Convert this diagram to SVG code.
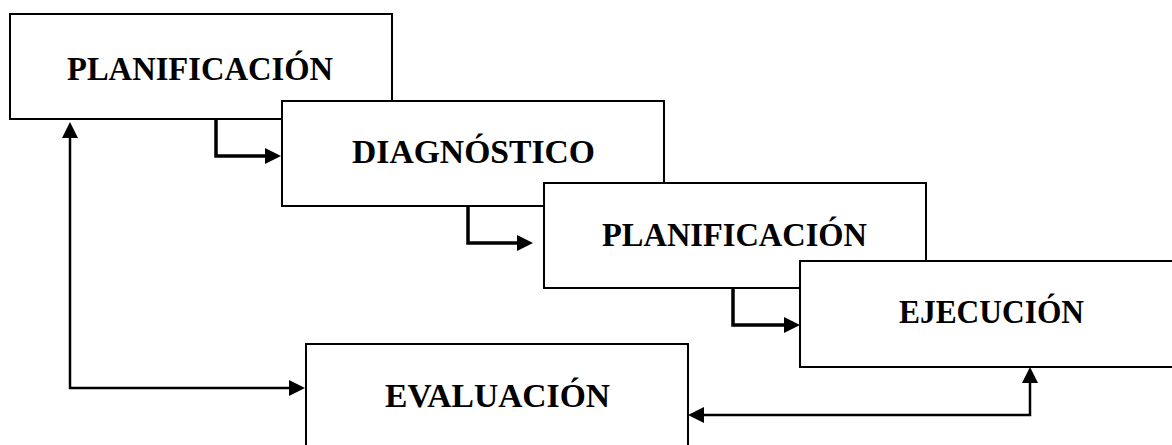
<svg xmlns="http://www.w3.org/2000/svg" width="1172" height="445" viewBox="0 0 1172 445">
<style>
.box{fill:#fff;stroke:#000;stroke-width:2}
.lbl{font-family:"Liberation Serif","DejaVu Serif",serif;font-weight:bold;font-size:34px;fill:#000}
.thick{fill:none;stroke:#000;stroke-width:3.5}
.thin{fill:none;stroke:#000;stroke-width:2.5}
</style>
<defs>
<marker id="ah" markerUnits="userSpaceOnUse" markerWidth="16" markerHeight="16" viewBox="0 0 16 16" refX="12" refY="8" orient="auto-start-reverse">
<path d="M0,0 L16,8 L0,16 z" fill="#000"/>
</marker>
</defs>
<rect width="1172" height="445" fill="#fff"/>
<g id="n1">
<rect class="box" x="10" y="14" width="382" height="105"/>
<text class="lbl" x="67" y="80" textLength="266" lengthAdjust="spacingAndGlyphs">PLANIFICACIÓN</text>
</g>
<g id="n2">
<rect class="box" x="282" y="101" width="382" height="105"/>
<text class="lbl" x="352" y="163" textLength="243" lengthAdjust="spacingAndGlyphs">DIAGNÓSTICO</text>
</g>
<g id="n3">
<rect class="box" x="544" y="183" width="382" height="105"/>
<text class="lbl" x="602" y="246" textLength="265" lengthAdjust="spacingAndGlyphs">PLANIFICACIÓN</text>
</g>
<g id="n4">
<rect class="box" x="800" y="261" width="390" height="106"/>
<text class="lbl" x="899" y="323" textLength="185" lengthAdjust="spacingAndGlyphs">EJECUCIÓN</text>
</g>
<g id="n5">
<rect class="box" x="306" y="344" width="382" height="120"/>
<text class="lbl" x="385" y="407" textLength="225" lengthAdjust="spacingAndGlyphs">EVALUACIÓN</text>
</g>
<g id="connectors">
<path class="thick" d="M216,119 V156 H277" marker-end="url(#ah)"/>
<path class="thick" d="M468,206 V243 H529" marker-end="url(#ah)"/>
<path class="thick" d="M733,288 V325 H796" marker-end="url(#ah)"/>
<path class="thin" d="M1030,371 V415 H692" marker-start="url(#ah)" marker-end="url(#ah)"/>
<path class="thin" d="M70,126 V388 H301" marker-start="url(#ah)" marker-end="url(#ah)"/>
</g>
</svg>
